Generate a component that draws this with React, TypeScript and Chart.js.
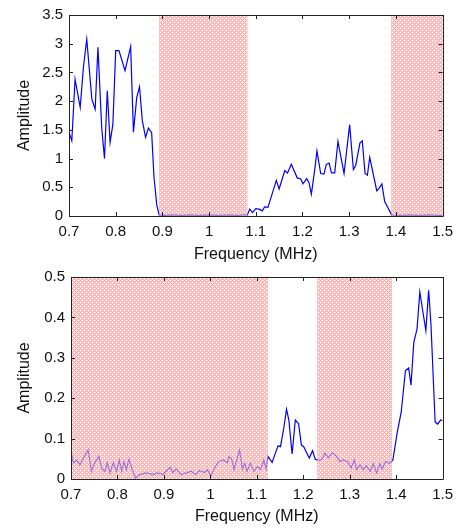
import React, { useEffect, useRef } from 'react';
import { Chart, registerables } from 'chart.js';
Chart.register(...registerables);

// ---------- data ----------
const topFreq = [
  0.700, 0.706, 0.713, 0.724, 0.731, 0.738, 0.749, 0.756, 0.762, 0.770,
  0.776, 0.782, 0.788, 0.794, 0.800, 0.807, 0.820, 0.832, 0.838, 0.845,
  0.851, 0.857, 0.864, 0.870, 0.877, 0.882, 0.888, 0.893, 0.905, 0.920,
  0.940, 0.960, 0.980, 1.000, 1.020, 1.040, 1.060, 1.075, 1.082, 1.087,
  1.093, 1.100, 1.107, 1.114, 1.119, 1.126, 1.134, 1.144, 1.150, 1.162,
  1.168, 1.176, 1.189, 1.196, 1.201, 1.209, 1.214, 1.219, 1.226, 1.231,
  1.239, 1.246, 1.251, 1.257, 1.262, 1.269, 1.276, 1.289, 1.301, 1.309,
  1.314, 1.323, 1.328, 1.334, 1.339, 1.344, 1.359, 1.364, 1.370, 1.376,
  1.391, 1.410, 1.430, 1.450, 1.470, 1.490, 1.500,
];
const topAmp = [
  1.46, 1.31, 2.38, 1.89, 2.6, 3.08, 2.03, 1.86, 2.94, 1.54,
  1.0, 2.18, 1.28, 1.6, 2.88, 2.88, 2.53, 2.95, 1.46, 2.06,
  2.25, 1.66, 1.37, 1.53, 1.45, 0.68, 0.19, 0.02, 0.01, 0.02,
  0.01, 0.02, 0.01, 0.02, 0.01, 0.02, 0.01, 0.02, 0.02, 0.12,
  0.06, 0.13, 0.12, 0.09, 0.16, 0.15, 0.36, 0.62, 0.47, 0.79,
  0.75, 0.90, 0.66, 0.65, 0.56, 0.65, 0.58, 0.38, 0.79, 1.13,
  0.74, 0.73, 0.90, 0.92, 0.75, 0.75, 1.30, 0.74, 1.59, 0.81,
  0.88, 1.27, 1.31, 0.74, 0.71, 1.02, 0.44, 0.48, 0.56, 0.25,
  0.02, 0.01, 0.02, 0.01, 0.02, 0.01, 0.01,
];

const bottomFreq = [
  0.700, 0.705, 0.712, 0.719, 0.726, 0.737, 0.744, 0.751, 0.760, 0.766,
  0.773, 0.778, 0.784, 0.791, 0.798, 0.804, 0.809, 0.814, 0.819, 0.825,
  0.832, 0.839, 0.848, 0.862, 0.876, 0.887, 0.898, 0.906, 0.914, 0.919,
  0.926, 0.937, 0.948, 0.959, 0.969, 0.976, 0.987, 0.994, 1.001, 1.009,
  1.018, 1.028, 1.037, 1.040, 1.046, 1.051, 1.058, 1.063, 1.069, 1.074,
  1.079, 1.086, 1.094, 1.101, 1.108, 1.115, 1.120, 1.124, 1.133, 1.140,
  1.146, 1.151, 1.158, 1.164, 1.169, 1.176, 1.183, 1.190, 1.196, 1.201,
  1.206, 1.213, 1.220, 1.226, 1.233, 1.240, 1.247, 1.254, 1.263, 1.272,
  1.279, 1.286, 1.296, 1.303, 1.310, 1.315, 1.322, 1.329, 1.336, 1.344,
  1.351, 1.358, 1.365, 1.370, 1.377, 1.386, 1.393, 1.402, 1.411, 1.420,
  1.427, 1.432, 1.438, 1.445, 1.451, 1.464, 1.470, 1.475, 1.484, 1.489,
  1.496, 1.500,
];
const bottomAmp = [
  0.07, 0.04, 0.047, 0.035, 0.05, 0.072, 0.019, 0.04, 0.056, 0.027,
  0.019, 0.04, 0.015, 0.04, 0.019, 0.047, 0.019, 0.043, 0.023, 0.049,
  0.023, 0.002, 0.011, 0.015, 0.011, 0.015, 0.011, 0.021, 0.029, 0.016,
  0.025, 0.011, 0.015, 0.019, 0.011, 0.021, 0.016, 0.023, 0.008, 0.027,
  0.043, 0.047, 0.04, 0.056, 0.049, 0.023, 0.052, 0.072, 0.025, 0.039,
  0.019, 0.039, 0.019, 0.031, 0.023, 0.047, 0.025, 0.056, 0.041, 0.064,
  0.082, 0.08, 0.125, 0.173, 0.146, 0.062, 0.146, 0.137, 0.084, 0.08,
  0.068, 0.052, 0.07, 0.049, 0.046, 0.049, 0.064, 0.052, 0.065, 0.056,
  0.043, 0.047, 0.043, 0.027, 0.047, 0.023, 0.035, 0.023, 0.033, 0.019,
  0.038, 0.015, 0.038, 0.025, 0.043, 0.039, 0.047, 0.113, 0.166, 0.268,
  0.275, 0.232, 0.338, 0.371, 0.463, 0.367, 0.467, 0.383, 0.141, 0.136,
  0.146, 0.144,
];

const topBands = [[0.893, 1.082], [1.39, 1.5]];
const bottomBands = [[0.7, 1.124], [1.23, 1.391]];

const xTicks = [0.7, 0.8, 0.9, 1.0, 1.1, 1.2, 1.3, 1.4, 1.5];
const topYTicks = [0, 0.5, 1, 1.5, 2, 2.5, 3, 3.5];
const bottomYTicks = [0, 0.1, 0.2, 0.3, 0.4, 0.5];

const xTitle = 'Frequency (MHz)';
const yTitle = 'Amplitude';

// ---------- styling ----------
const FONT = "'Liberation Sans', Arial, Helvetica, sans-serif";
const TEXT = '#111111';
const AXIS = '#222222';

function makePattern(ctx: CanvasRenderingContext2D) {
  const c = document.createElement('canvas');
  c.width = 4;
  c.height = 4;
  const g = c.getContext('2d')!;
  const img = g.createImageData(4, 4);
  const map = ['WLPL', 'LPLP', 'PLWL', 'LPLP'];
  const col: Record<string, number[]> = {
    W: [255, 252, 252],
    L: [255, 212, 212],
    P: [255, 168, 168],
  };
  for (let y = 0; y < 4; y++) {
    for (let x = 0; x < 4; x++) {
      const v = col[map[y][x]];
      const i = (y * 4 + x) * 4;
      img.data[i] = v[0];
      img.data[i + 1] = v[1];
      img.data[i + 2] = v[2];
      img.data[i + 3] = 255;
    }
  }
  g.putImageData(img, 0, 0);
  return ctx.createPattern(c, 'repeat')!;
}

function fmt(v: number) {
  return String(Number(Number(v).toFixed(2)));
}

interface PlotProps {
  freq: number[];
  amp: number[];
  bands: number[][];
  yTicks: number[];
  yMax: number;
  top: number;
  height: number;
  padTop: number;
  padRight: number;
  yWidth: number;
  xHeight: number;
  titlePad: number;
}

function Plot(p: PlotProps) {
  const ref = useRef<HTMLCanvasElement>(null);
  useEffect(() => {
    const canvas = ref.current!;
    const ctx0 = canvas.getContext('2d')!;
    const pattern = makePattern(ctx0);

    const drawBands = (chart: any, alpha: number) => {
      const { ctx, chartArea } = chart;
      const xs = chart.scales.x;
      ctx.save();
      ctx.globalAlpha = alpha;
      ctx.fillStyle = pattern;
      for (const [a, b] of p.bands) {
        const x1 = xs.getPixelForValue(a);
        const x2 = xs.getPixelForValue(b);
        ctx.fillRect(x1, chartArea.top, x2 - x1, chartArea.bottom - chartArea.top);
      }
      ctx.restore();
    };

    const hatchPlugin = {
      id: 'hatch',
      beforeDatasetsDraw(chart: any) {
        drawBands(chart, 1);
      },
      afterDatasetsDraw(chart: any) {
        drawBands(chart, 0.6);
      },
      afterDraw(chart: any) {
        const { ctx, chartArea } = chart;
        const { left, right, top, bottom } = chartArea;
        const xs = chart.scales.x;
        const ys = chart.scales.y;
        const L = 4;
        ctx.save();
        ctx.strokeStyle = AXIS;
        ctx.lineWidth = 1;
        ctx.beginPath();
        ctx.rect(Math.round(left) + 0.5, Math.round(top) + 0.5, Math.round(right - left), Math.round(bottom - top));
        for (const v of xTicks) {
          const x = Math.round(xs.getPixelForValue(v)) + 0.5;
          ctx.moveTo(x, bottom);
          ctx.lineTo(x, bottom - L);
          ctx.moveTo(x, top);
          ctx.lineTo(x, top + L);
        }
        for (const v of p.yTicks) {
          const y = Math.round(ys.getPixelForValue(v)) + 0.5;
          ctx.moveTo(left, y);
          ctx.lineTo(left + L, y);
          ctx.moveTo(right, y);
          ctx.lineTo(right - L, y);
        }
        ctx.stroke();
        ctx.restore();
      },
    };

    const points = p.freq.map((f, i) => ({ x: f, y: p.amp[i] }));

    const chart = new Chart(canvas, {
      type: 'scatter',
      data: {
        datasets: [
          {
            data: points,
            showLine: true,
            borderColor: '#0000ff',
            backgroundColor: '#0000ff',
            borderWidth: 1.2,
            pointRadius: 0,
            tension: 0,
            fill: false,
          } as any,
        ],
      },
      options: {
        animation: false,
        responsive: false,
        maintainAspectRatio: false,
        devicePixelRatio: 1,
        events: [],
        layout: { padding: { top: p.padTop, right: p.padRight, bottom: 0, left: 0 } },
        plugins: { legend: { display: false }, tooltip: { enabled: false } },
        scales: {
          x: {
            type: 'linear',
            min: 0.7,
            max: 1.5,
            afterBuildTicks: (s: any) => {
              s.ticks = xTicks.map((v) => ({ value: v }));
            },
            afterFit: (s: any) => {
              s.height = p.xHeight;
            },
            grid: { display: false, drawTicks: false },
            border: { display: false },
            ticks: {
              padding: 7,
              color: TEXT,
              font: { family: FONT, size: 15 },
              maxRotation: 0,
              autoSkip: false,
              callback: (v: any) => fmt(v),
            },
            title: {
              display: true,
              text: xTitle,
              color: TEXT,
              font: { family: FONT, size: 16 },
              padding: { top: 0, bottom: p.titlePad },
            },
          },
          y: {
            type: 'linear',
            min: 0,
            max: p.yMax,
            afterBuildTicks: (s: any) => {
              s.ticks = p.yTicks.map((v) => ({ value: v }));
            },
            afterFit: (s: any) => {
              s.width = p.yWidth;
            },
            grid: { display: false, drawTicks: false },
            border: { display: false },
            ticks: {
              padding: 6,
              color: TEXT,
              font: { family: FONT, size: 15 },
              autoSkip: false,
              callback: (v: any) => fmt(v),
            },
            title: {
              display: true,
              text: yTitle,
              color: TEXT,
              font: { family: FONT, size: 16 },
              padding: { top: 15, bottom: 0 },
            },
          },
        },
      } as any,
      plugins: [hatchPlugin],
    });
    return () => chart.destroy();
  }, []);

  return (
    <canvas
      ref={ref}
      width={460}
      height={p.height}
      style={{ position: 'absolute', left: 0, top: p.top, width: 460, height: p.height }}
    />
  );
}

export default function App() {
  return (
    <div style={{ position: 'absolute', left: 0, top: 0, width: 460, height: 529, background: '#fff', overflow: 'hidden' }}>
      <Plot
        freq={topFreq}
        amp={topAmp}
        bands={topBands}
        yTicks={topYTicks}
        yMax={3.5}
        top={0}
        height={270}
        padTop={13}
        padRight={17}
        yWidth={69}
        xHeight={54}
        titlePad={5.4}
      />
      <Plot
        freq={bottomFreq}
        amp={bottomAmp}
        bands={bottomBands}
        yTicks={bottomYTicks}
        yMax={0.5}
        top={262}
        height={267}
        padTop={14}
        padRight={15}
        yWidth={71}
        xHeight={50}
        titlePad={2.4}
      />
    </div>
  );
}
